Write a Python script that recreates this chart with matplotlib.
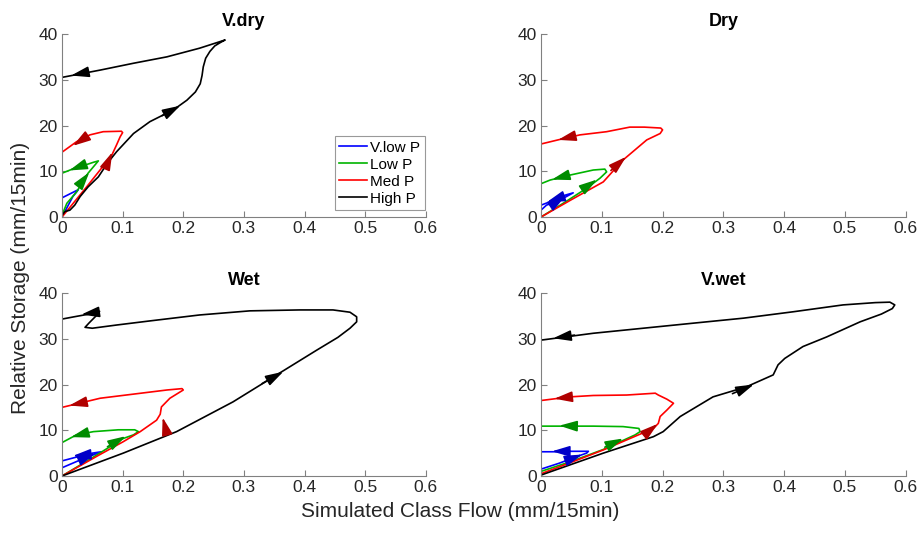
import numpy as np
import matplotlib
matplotlib.use('Agg')
import matplotlib.pyplot as plt

plt.rcParams['font.family'] = ['Liberation Sans', 'DejaVu Sans']

# ---- data: (flow, storage) loops for each precipitation class ----
# V.dry
vdry_vlow_x = [0, 0.008, 0.018, 0.027, 0.015, 0]
vdry_vlow_y = [0, 2.0, 4.5, 6.0, 5.2, 4.2]
vdry_low_x = [0, 0.008, 0.024, 0.043, 0.060, 0.052, 0.043, 0.021, 0]
vdry_low_y = [0.4, 3.0, 5.5, 9.6, 12.3, 12.0, 11.6, 10.7, 9.6]
vdry_med_x = [0, 0.040, 0.082, 0.090, 0.096, 0.100, 0.098, 0.068, 0.046, 0.024, 0]
vdry_med_y = [0, 6.5, 13.5, 15.8, 17.6, 18.5, 18.8, 18.7, 18.0, 16.5, 14.2]
vdry_high_x = [0, 0.005, 0.013, 0.021, 0.030, 0.043, 0.060, 0.075, 0.090, 0.118, 0.145, 0.184,
               0.206, 0.220, 0.228, 0.231, 0.233, 0.237, 0.244, 0.252, 0.262, 0.269,
               0.255, 0.227, 0.173, 0.118, 0.063, 0]
vdry_high_y = [0.4, 1.2, 1.5, 2.6, 4.5, 6.6, 8.8, 11.8, 14.3, 18.3, 20.9, 23.5,
               25.6, 27.4, 29.2, 31.0, 32.9, 34.8, 36.3, 37.5, 38.3, 38.8,
               38.2, 37.0, 35.1, 33.7, 32.2, 30.6]

# Dry
dry_vlow_x = [0, 0, 0.009, 0.031, 0.053, 0.040, 0.020, 0]
dry_vlow_y = [0.3, 1.5, 2.6, 3.7, 5.3, 4.8, 3.6, 2.6]
dry_low_x = [0, 0.040, 0.075, 0.097, 0.108, 0.105, 0.086, 0.048, 0.015, 0]
dry_low_y = [0, 3.3, 6.3, 8.5, 9.9, 10.5, 10.3, 9.2, 8.1, 7.3]
dry_med_x = [0, 0.050, 0.1025, 0.135, 0.174, 0.196, 0.200, 0.197, 0.170, 0.146, 0.108, 0.064, 0.031, 0]
dry_med_y = [0, 3.8, 7.7, 12.5, 16.9, 18.3, 19.1, 19.5, 19.7, 19.7, 18.7, 18.0, 17.0, 16.0]

# Wet
wet_vlow_x = [0, 0, 0.030, 0.065, 0.050, 0.020, 0]
wet_vlow_y = [0.3, 1.8, 3.5, 5.3, 5.0, 4.0, 3.3]
wet_low_x = [0, 0.050, 0.101, 0.118, 0.126, 0.120, 0.093, 0.052, 0.024, 0]
wet_low_y = [0, 4.0, 8.2, 9.0, 9.7, 10.1, 10.1, 9.7, 9.0, 7.3]
wet_med_x = [0, 0.060, 0.101, 0.129, 0.156, 0.162, 0.164, 0.178, 0.200, 0.198,
             0.173, 0.118, 0.063, 0]
wet_med_y = [0, 4.5, 7.5, 9.7, 12.2, 13.5, 15.1, 17.0, 18.8, 19.1,
             18.8, 17.9, 17.0, 15.0]
wet_high_x = [0, 0.101, 0.189, 0.282, 0.354, 0.420, 0.455, 0.475, 0.486, 0.486, 0.475, 0.447,
              0.392, 0.310, 0.227, 0.145, 0.090, 0.050, 0.038, 0.045, 0.060, 0.062,
              0.045, 0.020, 0]
wet_high_y = [0, 5.0, 9.7, 16.2, 22.1, 27.5, 30.3, 32.3, 33.7, 34.8, 35.8, 36.3,
              36.3, 36.1, 35.2, 33.9, 33.0, 32.3, 32.5, 33.5, 35.5, 36.0,
              35.4, 34.8, 34.3]

# V.wet
vwet_vlow_x = [0, 0.030, 0.060, 0.075, 0.078, 0.050, 0.020, 0]
vwet_vlow_y = [1.5, 2.8, 4.3, 5.0, 5.4, 5.4, 5.3, 5.3]
vwet_low_x = [0, 0.050, 0.1025, 0.155, 0.163, 0.161, 0.135, 0.086, 0.040, 0]
vwet_low_y = [1.0, 3.2, 5.8, 9.0, 9.7, 10.4, 10.8, 10.9, 10.9, 10.9]
vwet_med_x = [0, 0.050, 0.1025, 0.185, 0.193, 0.196, 0.207, 0.218, 0.207, 0.193, 0.188,
              0.141, 0.086, 0.048, 0]
vwet_med_y = [0.5, 3.0, 5.7, 10.4, 11.5, 13.0, 14.4, 15.9, 16.8, 17.7, 18.1,
              17.7, 17.6, 17.3, 16.5]
vwet_high_x = [0, 0.1025, 0.185, 0.201, 0.229, 0.283, 0.338, 0.382, 0.390, 0.401, 0.431,
               0.470, 0.525, 0.560, 0.578, 0.582, 0.574, 0.550, 0.497, 0.415, 0.333, 0.250,
               0.168, 0.086, 0]
vwet_high_y = [0.2, 5.0, 8.6, 9.7, 13.0, 17.3, 19.5, 22.1, 24.3, 25.7, 28.3,
               30.4, 33.7, 35.4, 36.6, 37.4, 38.0, 37.9, 37.4, 35.9, 34.5, 33.4,
               32.3, 31.2, 29.7]

# direction arrows: (tail x, tail y, head x, head y)
vdry_arrows = {'low': [(0.030, 7.2, 0.045, 9.8), (0.032, 11.2, 0.012, 10.2)],
               'med': [(0.074, 11.5, 0.083, 14.2), (0.036, 17.2, 0.018, 15.6)],
               'high': [(0.165, 22.2, 0.195, 24.4), (0.040, 31.7, 0.015, 31.0)]}
dry_arrows = {'vlow': [(0.018, 2.6, 0.040, 4.6), (0.030, 4.2, 0.010, 3.3)],
              'low': [(0.068, 6.0, 0.092, 8.2), (0.040, 9.0, 0.018, 8.2)],
              'med': [(0.115, 10.2, 0.140, 13.2), (0.050, 17.6, 0.028, 16.9)]}
wet_arrows = {'vlow': [(0.028, 3.4, 0.055, 5.0), (0.045, 4.7, 0.018, 4.4)],
              'low': [(0.075, 6.4, 0.105, 8.7), (0.040, 9.4, 0.015, 8.5)],
              'med': [(0.172, 9.8, 0.166, 12.8), (0.040, 16.2, 0.012, 15.4)],
              'high': [(0.330, 20.2, 0.365, 22.8), (0.058, 35.8, 0.032, 35.3)]}
vwet_arrows = {'vlow': [(0.040, 3.3, 0.068, 4.7), (0.048, 5.4, 0.018, 5.4)],
               'low': [(0.105, 6.3, 0.135, 8.2), (0.060, 10.9, 0.030, 11.0)],
               'med': [(0.170, 9.0, 0.192, 11.4), (0.050, 17.3, 0.022, 16.9)],
               'high': [(0.315, 18.0, 0.350, 20.0), (0.055, 30.8, 0.020, 30.1)]}

classes = ['vlow', 'low', 'med', 'high']
labels = ['V.low P', 'Low P', 'Med P', 'High P']
line_colors = {'vlow': '#0000FF', 'low': '#00B400', 'med': '#FF0000', 'high': '#000000'}
arrow_colors = {'vlow': '#0000C8', 'low': '#008C00', 'med': '#B00000', 'high': '#000000'}

panels = [
    ('V.dry', {'vlow': (vdry_vlow_x, vdry_vlow_y), 'low': (vdry_low_x, vdry_low_y),
               'med': (vdry_med_x, vdry_med_y), 'high': (vdry_high_x, vdry_high_y)}, vdry_arrows),
    ('Dry', {'vlow': (dry_vlow_x, dry_vlow_y), 'low': (dry_low_x, dry_low_y),
             'med': (dry_med_x, dry_med_y)}, dry_arrows),
    ('Wet', {'vlow': (wet_vlow_x, wet_vlow_y), 'low': (wet_low_x, wet_low_y),
             'med': (wet_med_x, wet_med_y), 'high': (wet_high_x, wet_high_y)}, wet_arrows),
    ('V.wet', {'vlow': (vwet_vlow_x, vwet_vlow_y), 'low': (vwet_low_x, vwet_low_y),
               'med': (vwet_med_x, vwet_med_y), 'high': (vwet_high_x, vwet_high_y)}, vwet_arrows),
]

fig = plt.figure(figsize=(9.21, 5.34), dpi=100)
positions = [[0.0673, 0.5936, 0.395, 0.3418],
             [0.5874, 0.5936, 0.396, 0.3418],
             [0.0673, 0.1086, 0.395, 0.3427],
             [0.5874, 0.1086, 0.396, 0.3427]]

axis_grey = '#262626'
for pos, (title, series, arrows) in zip(positions, panels):
    ax = fig.add_axes(pos)
    handles = {}
    for c in classes:
        if c in series:
            x, y = series[c]
            h, = ax.plot(x, y, color=line_colors[c], lw=1.2, solid_joinstyle='round')
            handles[c] = h
    for c, arr in arrows.items():
        for (x0, y0, x1, y1) in arr:
            ax.annotate('', xy=(x1, y1), xytext=(x0, y0),
                        arrowprops=dict(arrowstyle='-|>,head_length=0.9,head_width=0.27',
                                        color=arrow_colors[c], lw=1.2,
                                        mutation_scale=12, shrinkA=0, shrinkB=0))
    ax.set_xlim(0, 0.6)
    ax.set_ylim(0, 40)
    ax.set_xticks(np.arange(0, 0.61, 0.1))
    ax.set_xticklabels(['0', '0.1', '0.2', '0.3', '0.4', '0.5', '0.6'])
    ax.set_yticks([0, 10, 20, 30, 40])
    ax.spines['top'].set_visible(False)
    ax.spines['right'].set_visible(False)
    for s in ['left', 'bottom']:
        ax.spines[s].set_color('#808080')
        ax.spines[s].set_linewidth(0.8)
    ax.tick_params(direction='in', length=4, width=0.8, color='#808080',
                   labelsize=12.5, labelcolor=axis_grey, pad=3)
    ax.set_title(title, fontsize=13, fontweight='bold', pad=6)
    if title == 'V.dry':
        leg = ax.legend([handles[c] for c in classes], labels, loc='lower right',
                        bbox_to_anchor=(1.005, 0.02), fontsize=11, frameon=True,
                        fancybox=False, handlelength=1.8, handletextpad=0.2,
                        borderpad=0.3, labelspacing=0.2, borderaxespad=0.2)
        leg.get_frame().set_edgecolor('#808080')
        leg.get_frame().set_linewidth(0.8)

fig.text(0.5, 0.025, 'Simulated Class Flow (mm/15min)', ha='center', va='bottom',
         fontsize=15, color=axis_grey)
fig.text(0.012, 0.48, 'Relative Storage (mm/15min)', ha='left', va='center',
         rotation=90, fontsize=15, color=axis_grey)

fig.savefig('out.png', dpi=100)
